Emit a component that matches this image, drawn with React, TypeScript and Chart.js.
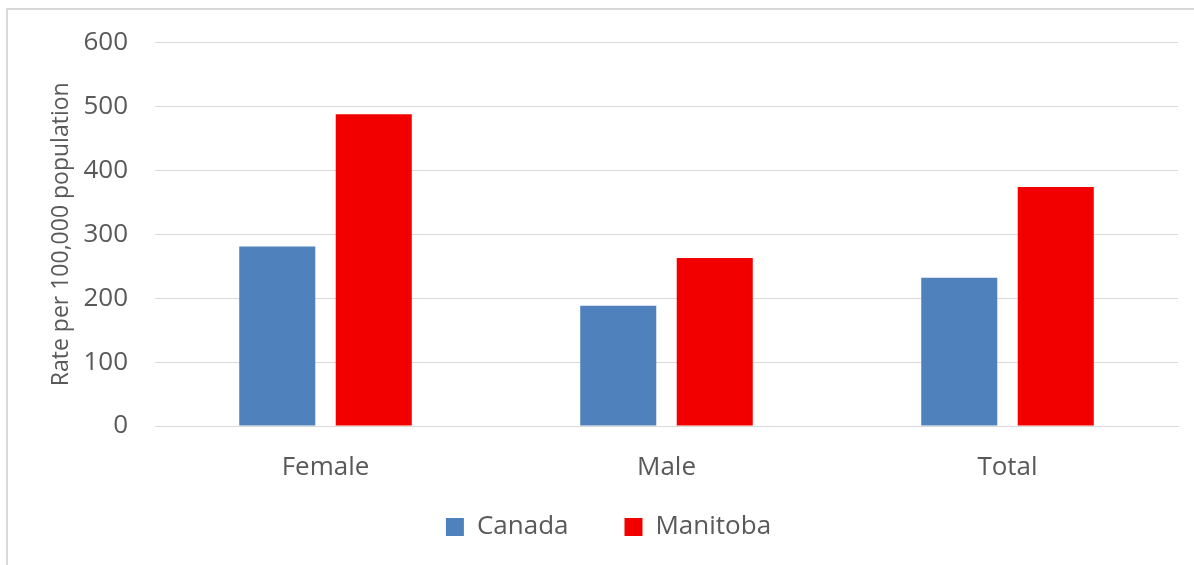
import React, { useEffect, useRef } from "react";
import { Chart, registerables } from "chart.js";

Chart.register(...registerables);

const categories = ["Female", "Male", "Total"];
const seriesNames = ["Canada", "Manitoba"];
const canadaValues = [281, 188, 232];
const manitobaValues = [488, 263, 374];
const yMin = 0;
const yMax = 600;
const yStep = 100;
const yTitle = "Rate per 100,000 population";

const FONT = "'Open Sans', sans-serif";
const TEXT = "#595959";
const GRID = "#D9D9D9";

// moves the legend up so it sits just below the category labels
const legendPlace = {
  id: "legendPlace",
  afterLayout(chart: any) {
    const lg = chart.legend;
    if (!lg) return;
    const h = lg.height;
    lg.top = chart.chartArea.bottom + 32;
    lg.bottom = lg.top + h;
  },
};

export default function App() {
  const ref = useRef<HTMLCanvasElement | null>(null);

  useEffect(() => {
    if (!ref.current) return;
    const chart = new Chart(ref.current, {
      type: "bar",
      data: {
        labels: categories,
        datasets: [
          {
            label: seriesNames[0],
            data: canadaValues,
            backgroundColor: "#4F81BD",
            categoryPercentage: 0.566,
            barPercentage: 0.788,
          },
          {
            label: seriesNames[1],
            data: manitobaValues,
            backgroundColor: "#F20000",
            categoryPercentage: 0.566,
            barPercentage: 0.788,
          },
        ],
      },
      plugins: [legendPlace],
      options: {
        responsive: false,
        animation: false,
        devicePixelRatio: 1,
        layout: { padding: { left: 39, right: 16, top: 41, bottom: -13 } },
        plugins: {
          title: { display: false },
          tooltip: { enabled: false },
          legend: {
            position: "bottom",
            align: "center",
            labels: {
              boxWidth: 18,
              boxHeight: 18,
              padding: 56,
              color: TEXT,
              font: { family: FONT, size: 26 },
            },
          },
        },
        scales: {
          x: {
            grid: { display: false, drawTicks: false },
            border: { display: true, color: GRID, width: 1 },
            ticks: {
              color: TEXT,
              font: { family: FONT, size: 26 },
              padding: 26,
              maxRotation: 0,
            },
            afterFit: (scale: any) => {
              scale.height = 60;
            },
          },
          y: {
            min: yMin,
            max: yMax,
            grid: { color: GRID, lineWidth: 1, drawTicks: false },
            border: { display: false },
            ticks: {
              stepSize: yStep,
              color: TEXT,
              font: { family: FONT, size: 26 },
              padding: 27,
            },
            title: {
              display: true,
              text: yTitle,
              color: TEXT,
              font: { family: FONT, size: 23 },
              padding: { top: 9, bottom: 0 },
            },
            afterFit: (scale: any) => {
              scale.width = 116;
            },
          },
        },
      },
    });
    return () => chart.destroy();
  }, []);

  return (
    <div style={{ position: "fixed", left: 0, top: 0, width: 1194, height: 565, background: "#fff", overflow: "hidden" }}>
      <div
        style={{
          position: "absolute",
          left: 6,
          top: 8,
          right: -10,
          bottom: -10,
          borderLeft: `2px solid ${GRID}`,
          borderTop: `2px solid ${GRID}`,
        }}
      />
      <canvas ref={ref} width={1194} height={565} style={{ position: "absolute", left: 0, top: 0, width: 1194, height: 565 }} />
    </div>
  );
}
